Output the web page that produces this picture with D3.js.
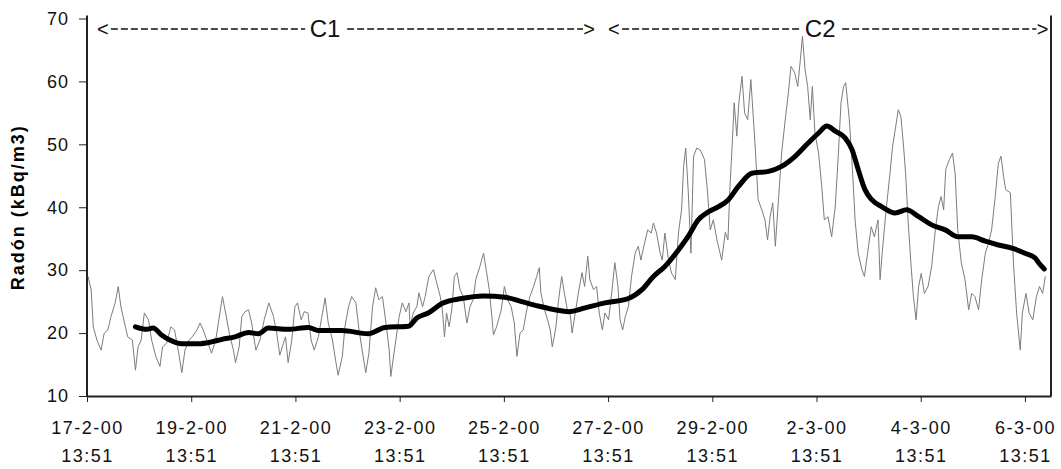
<!DOCTYPE html>
<html>
<head>
<meta charset="utf-8">
<script src="https://cdn.jsdelivr.net/npm/d3@7"></script>
<style>
  body { margin: 0; background: #fff; }
  svg { display: block; font-family: "Liberation Sans", Arial, sans-serif; }
  .axis path, .axis line { stroke: #222; }
  .axis text { font-size: 18px; letter-spacing: 1.5px; fill: #111; }
</style>
</head>
<body>
<svg id="chart" width="1061" height="469"></svg>
<script>
// days since 17-2-00 13:51, hourly radon (kBq/m3)
var rawDay = [0.02,0.08,0.12,0.19,0.27,0.33,0.40,0.46,0.54,0.60,0.65,0.72,0.78,0.87,0.93,0.98,1.04,1.10,1.18,1.24,1.32,1.40,1.45,1.53,1.61,1.68,1.75,1.82,1.88,1.96,2.02,2.11,2.17,2.23,2.32,2.39,2.47,2.53,2.60,2.66,2.73,2.81,2.85,2.92,2.97,3.03,3.10,
  3.16,3.24,3.32,3.40,3.49,3.58,3.64,3.70,3.77,3.81,3.86,3.93,3.99,4.04,4.11,4.17,4.24,4.30,4.36,4.44,4.52,4.57,4.63,4.71,4.77,4.82,4.90,4.95,5.02,5.08,5.16,5.22,5.28,5.35,5.41,5.48,5.54,5.60,5.67,5.73,5.80,5.83,5.90,5.99,6.05,6.12,6.18,
  6.20,6.26,6.33,6.37,6.44,6.49,6.56,6.65,6.71,6.78,6.82,6.86,6.90,6.95,7.00,7.05,7.10,7.16,7.22,7.29,7.35,7.41,7.46,7.54,7.61,7.66,7.72,7.77,7.80,7.86,7.95,8.01,8.07,8.14,8.20,8.25,8.31,8.37,8.44,8.50,8.57,8.63,8.68,8.71,8.78,8.84,8.89,8.93,9.00,9.05,9.11,9.16,9.23,
  9.27,9.31,9.37,9.43,9.50,9.55,9.61,9.65,9.72,9.78,9.83,9.89,9.94,10.01,10.07,10.13,10.19,10.23,10.28,10.33,10.39,10.45,10.52,10.58,10.63,10.70,10.76,10.83,10.87,10.93,11.00,11.04,11.09,11.16,11.22,11.29,11.35,11.41,11.45,11.49,11.54,11.59,11.64,11.70,11.77,11.85,11.91,11.96,12.02,12.09,12.18,
  12.25,12.30,12.34,12.39,12.42,12.47,12.51,12.57,12.62,12.68,12.74,12.79,12.83,12.88,12.95,13.01,13.06,13.11,13.16,13.21,13.27,13.33,13.40,13.46,13.51,13.58,13.64,13.69,13.73,13.78,13.83,13.88,13.92,13.97,14.04,14.10,14.15,14.22,14.29,14.36,14.42,14.47,14.52,14.56,14.63,14.69,14.74,14.80,14.87,14.92,14.98,15.05,15.11,15.18,15.22,15.26,15.33,
  15.41,15.46,15.51,15.57,15.62,15.67,15.71,15.76,15.82,15.86,15.91,15.96,16.01,16.07,16.14,16.21,16.28,16.34,16.39,16.44,16.48,16.55,16.61,16.66,16.71,16.78,16.85,16.92,16.98,17.04,17.11,17.17,17.24,17.30,17.36,17.43,17.49,17.54,17.59,17.63,17.72,17.78,17.84,17.91,17.95,18.02,18.08,18.15,18.22,18.28,18.34,18.39];
var rawRadon = [29.0,26.9,21.0,18.9,17.3,20.0,20.5,22.6,24.8,27.4,24.2,21.6,19.4,18.9,14.1,17.8,18.9,23.2,22.1,18.9,16.3,14.7,17.8,18.4,21.0,20.5,17.3,13.7,17.3,18.9,19.4,20.5,21.6,20.5,18.4,16.8,18.9,22.1,25.8,23.2,20.0,17.3,15.3,17.8,22.6,23.4,23.7,
  21.6,17.3,18.9,22.1,24.8,22.6,20.0,16.5,18.4,19.4,15.3,18.9,24.2,24.8,22.1,23.4,23.2,18.9,17.3,19.4,23.2,25.6,21.6,18.9,15.7,13.3,16.3,21.0,24.2,25.8,24.8,20.5,17.3,13.7,16.8,24.2,27.2,25.3,25.8,22.1,17.3,13.1,17.3,22.6,24.8,23.4,24.8,
  21.0,23.2,24.2,26.4,24.2,25.8,29.0,30.1,28.0,25.8,23.7,19.4,23.2,21.0,23.7,29.0,29.6,26.9,25.8,21.6,24.2,25.3,28.5,30.6,32.7,30.1,26.9,22.6,19.7,21.0,23.7,27.4,25.3,24.2,21.6,16.3,20.0,20.5,23.7,25.8,27.4,29.0,30.4,26.4,23.7,22.1,20.5,17.8,21.0,25.3,29.0,26.4,23.2,
  23.2,20.0,23.2,26.4,29.6,27.4,32.2,28.5,26.9,27.4,23.2,20.5,23.2,22.1,26.4,31.2,27.4,22.1,20.5,22.6,24.2,29.0,32.7,33.8,31.6,34.3,36.4,35.9,37.5,35.9,32.7,31.6,35.9,31.6,29.5,28.5,35.9,39.6,46.5,49.4,42.3,32.7,48.1,49.4,49.1,47.6,42.3,36.4,38.0,34.8,31.6,
  36.0,34.8,43.3,51.3,56.6,51.3,56.6,60.8,55.0,53.9,60.3,53.9,48.6,41.2,39.6,38.0,34.8,38.5,40.7,33.8,41.2,48.6,53.9,58.2,62.4,61.4,59.2,63.5,67.2,61.9,59.2,53.9,59.2,51.8,48.6,43.3,38.0,38.5,35.3,40.1,48.6,56.6,59.2,59.8,53.9,46.0,38.0,32.7,30.1,29.0,32.7,36.9,35.3,38.0,28.5,32.7,39.1,
  45.4,49.7,52.3,55.5,54.4,49.7,45.4,37.5,30.1,25.8,22.1,27.4,29.5,26.3,27.4,30.6,36.4,40.1,41.7,39.6,46.0,47.6,48.6,45.4,36.4,31.1,28.5,23.7,26.3,25.8,23.7,28.5,32.7,34.3,36.4,41.7,47.0,48.1,44.9,42.8,42.3,31.1,23.2,17.3,23.2,26.3,23.2,22.1,25.8,27.4,26.3,29.0];

// moving average
var avgDay = [0.93,1.15,1.27,1.43,1.59,1.82,2.14,2.39,2.59,2.84,3.10,3.29,3.48,3.86,4.25,4.44,4.89,5.40,5.72,6.17,6.33,6.55,6.81,7.19,7.61,8.02,8.34,8.66,8.98,9.24,9.56,9.94,10.39,10.65,10.87,11.09,11.35,11.54,11.73,11.93,12.12,12.31,12.50,12.76,13.08,13.33,13.59,13.84,14.04,14.20,14.36,14.55,14.68,14.80,14.93,15.06,15.25,15.51,15.73,15.96,16.21,16.47,16.72,16.98,17.24,17.49,17.75,18.00,18.20,18.27,18.37];
var avgRadon = [21.0,20.6,20.8,19.7,18.9,18.3,18.3,18.6,19.0,19.4,20.1,19.9,20.8,20.6,20.9,20.4,20.4,19.9,20.9,21.1,22.4,23.2,24.7,25.5,25.9,25.7,25.0,24.3,23.7,23.4,24.0,24.8,25.5,26.9,29.0,30.6,33.2,35.4,38.0,39.3,40.1,41.2,43.3,45.4,45.7,46.5,48.1,50.2,51.8,52.9,52.1,51.0,49.2,46.0,42.8,41.2,40.1,39.1,39.6,38.5,37.2,36.4,35.3,35.3,34.6,34.0,33.5,32.7,31.9,31.1,30.2];

var tickDay = [0, 2, 4, 6, 8, 10, 12, 14, 16, 18];
var tickDate = ["17-2-00","19-2-00","21-2-00","23-2-00","25-2-00","27-2-00","29-2-00","2-3-00","4-3-00","6-3-00"];
var tickTime = "13:51";
var yTicks = [10, 20, 30, 40, 50, 60, 70];

var periodName = ["C1", "C2"];
var periodFrom = [0.19, 10.0];
var periodTo = [9.75, 18.45];
var periodMid = [4.57, 14.07];

function drawChart() {
    var svg = d3.select("#chart");
    var x0px = 87, x1px = 1051, y0px = 396, y1px = 18.5;

    var x = d3.scaleLinear().domain([0, 18.5]).range([x0px, x1px]);
    var y = d3.scaleLinear().domain([10, 70]).range([y0px, y1px]);

    // y axis
    svg.append("g")
        .attr("class", "axis")
        .attr("transform", "translate(" + x0px + ",0)")
        .call(d3.axisLeft(y).tickValues(yTicks).tickSize(8).tickPadding(10).tickSizeOuter(0))
        .call(function(g) {
            g.select(".domain").attr("stroke-width", 2).attr("d", "M0," + (y1px - 3) + "V" + y0px);
            g.selectAll("text").style("letter-spacing", "1px");
        });

    // x axis, two-line labels
    var xAxis = svg.append("g")
        .attr("class", "axis")
        .attr("transform", "translate(0," + y0px + ")")
        .call(d3.axisBottom(x).tickValues(tickDay).tickSize(6).tickSizeOuter(0).tickFormat(""));
    xAxis.select(".domain").attr("stroke-width", 2);
    xAxis.selectAll(".tick").each(function(d, i) {
        var t = d3.select(this).append("text")
            .attr("fill", "#111")
            .attr("text-anchor", "middle");
        t.append("tspan").attr("x", 0).attr("y", 38).text(tickDate[i]);
        t.append("tspan").attr("x", 0).attr("y", 66).text(tickTime);
    });

    // right frame line
    svg.append("line")
        .attr("x1", x1px).attr("x2", x1px)
        .attr("y1", y1px - 3).attr("y2", y0px)
        .attr("stroke", "#222").attr("stroke-width", 2);

    // y label
    svg.append("text")
        .attr("transform", "translate(24," + ((y0px + y1px) / 2) + ") rotate(-90)")
        .attr("text-anchor", "middle")
        .style("font-size", "18px")
        .style("font-weight", "bold")
        .style("letter-spacing", "2px")
        .text("Radón (kBq/m3)");

    var line = d3.line()
        .x(function(d) { return x(d[0]); })
        .y(function(d) { return y(d[1]); });

    // hourly series
    svg.append("path")
        .datum(d3.zip(rawDay, rawRadon))
        .attr("fill", "none")
        .attr("stroke", "#7c7c7c")
        .attr("stroke-width", 1)
        .attr("d", line);

    // moving average
    svg.append("path")
        .datum(d3.zip(avgDay, avgRadon))
        .attr("fill", "none")
        .attr("stroke", "#000")
        .attr("stroke-width", 5)
        .attr("stroke-linejoin", "round")
        .attr("stroke-linecap", "round")
        .attr("d", line.curve(d3.curveMonotoneX));

    // period markers at top
    var py = 29;
    periodName.forEach(function(name, i) {
        var xa = x(periodFrom[i]), xb = x(periodTo[i]), xm = x(periodMid[i]);
        var g = svg.append("g").attr("fill", "#111").attr("stroke", "#111");
        g.append("text").attr("x", xa).attr("y", py + 7).attr("stroke", "none")
            .style("font-size", "20px").text("<");
        g.append("text").attr("x", xb).attr("y", py + 7).attr("stroke", "none")
            .attr("text-anchor", "end").style("font-size", "20px").text(">");
        g.append("line").attr("x1", xa + 14).attr("x2", xm - 20).attr("y1", py).attr("y2", py)
            .attr("stroke-width", 1.5).attr("stroke-dasharray", "7,3");
        g.append("line").attr("x1", xm + 22).attr("x2", xb - 12).attr("y1", py).attr("y2", py)
            .attr("stroke-width", 1.5).attr("stroke-dasharray", "7,3");
        g.append("text").attr("x", xm).attr("y", py + 8).attr("stroke", "none")
            .attr("text-anchor", "middle").style("font-size", "24px").text(name);
    });
}

drawChart();
</script>
</body>
</html>
